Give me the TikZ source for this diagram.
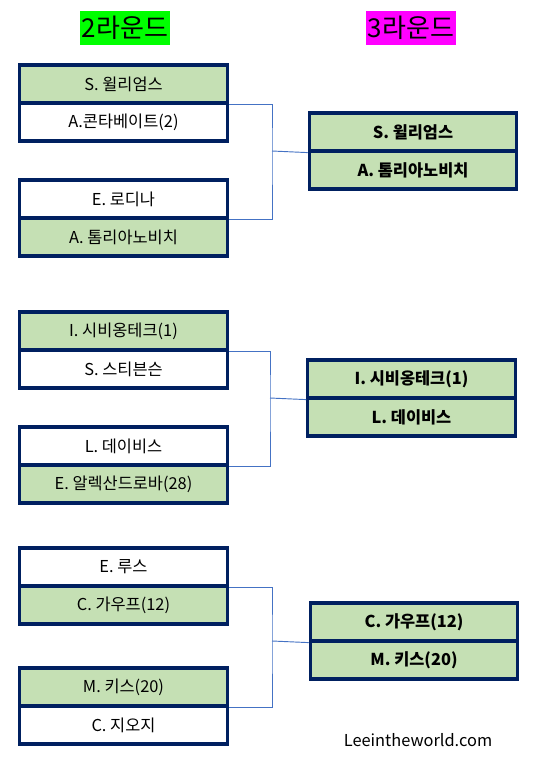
\documentclass[tikz,border=0pt]{standalone}
\usepackage{fontspec}
\setmainfont{Noto Sans CJK KR}
\definecolor{cellgreen}{HTML}{C5E0B4}
\definecolor{navy}{HTML}{002060}
\definecolor{connblue}{HTML}{4472C4}
\definecolor{titlegreen}{HTML}{00FF00}
\definecolor{titlemag}{HTML}{FF00FF}
\tikzset{
  cell/.style={draw=navy, line width=2.4pt, minimum width=155.5pt, minimum height=28.5pt, inner sep=0pt, font=\fontsize{12.3}{14}\selectfont, text=black},
  win/.style={cell, fill=cellgreen},
  lose/.style={cell, fill=white},
  rcell/.style={cell, fill=cellgreen, font=\fontsize{12.3}{14}\selectfont\bfseries},
  conn/.style={draw=connblue, line width=0.7pt},
  title/.style={minimum width=67.5pt, minimum height=26pt, inner sep=0pt, font=\fontsize{19.5}{22}\selectfont}
}
\begin{document}
\begin{tikzpicture}[x=0.75pt,y=-0.75pt]
\useasboundingbox (0,0) rectangle (552,765);
% titles
\node[title, fill=titlegreen] (t2) at (125,28) {2라운드};
\node[title, fill=titlemag] (t3) at (411,28) {3라운드};
% group 1
\node[win]  (a1) at (123.5,84)  {S. 윌리엄스};
\node[lose] (a2) at (123.5,122) {A.콘타베이트(2)};
\node[lose] (b1) at (123.5,199) {E. 로디나};
\node[win]  (b2) at (123.5,237) {A. 톰리아노비치};
\node[rcell] (r1) at (413,132) {S. 윌리엄스};
\node[rcell] (r2) at (413,170) {A. 톰리아노비치};
\coordinate (j1) at (272,151);
% group 2
\node[win]  (c1) at (123.5,331) {I. 시비옹테크(1)};
\node[lose] (c2) at (123.5,369) {S. 스티븐슨};
\node[lose] (d1) at (123.5,446) {L. 데이비스};
\node[win]  (d2) at (123.5,484) {E. 알렉산드로바(28)};
\node[rcell] (s1) at (411.5,379) {I. 시비옹테크(1)};
\node[rcell] (s2) at (411.5,417) {L. 데이비스};
\coordinate (j2) at (270,398);
% group 3
\node[lose] (e1) at (123.5,567) {E. 루스};
\node[win]  (e2) at (123.5,605) {C. 가우프(12)};
\node[win]  (f1) at (123.5,687) {M. 키스(20)};
\node[lose] (f2) at (123.5,725) {C. 지오지};
\node[rcell] (u1) at (414,622) {C. 가우프(12)};
\node[rcell] (u2) at (414,660) {M. 키스(20)};
\coordinate (j3) at (272,641);
% connectors
\draw[conn] (a1.south east) -| (j1) |- (b1.south east);
\draw[conn] (j1) -- (r1.south west);
\draw[conn] (c1.south east) -| (j2) |- (d1.south east);
\draw[conn] (j2) -- (s1.south west);
\draw[conn] (e1.south east) -| (j3) |- (f1.south east);
\draw[conn] (j3) -- (u1.south west);
% watermark
\node[font=\fontsize{12.3}{14}\selectfont, text=black] (wm) at (418,740) {Leeintheworld.com};
\end{tikzpicture}
\end{document}
